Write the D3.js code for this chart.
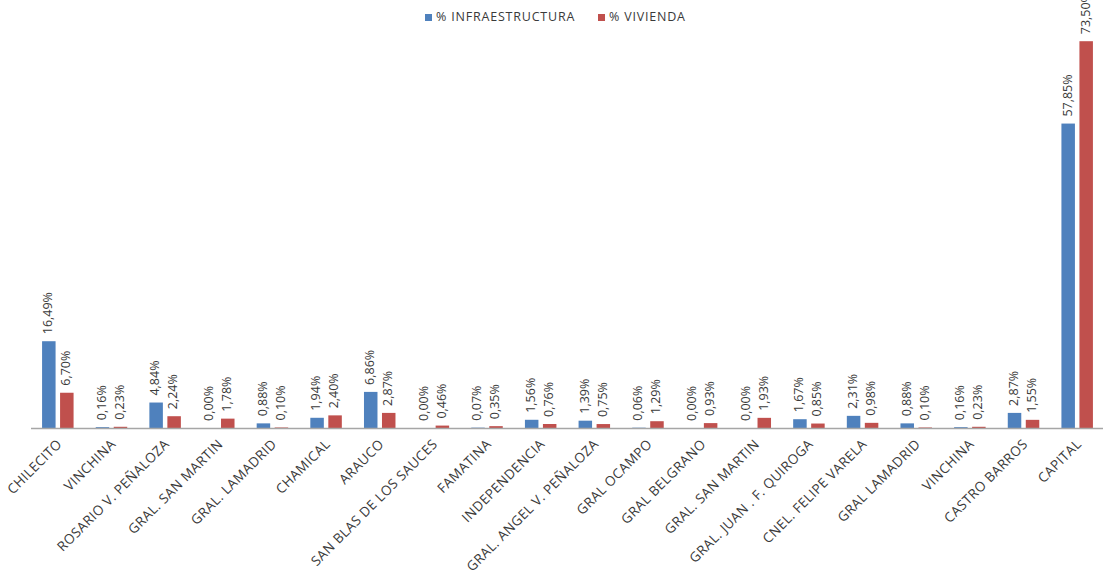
<!DOCTYPE html>
<html><head><meta charset="utf-8">
<script src="https://cdn.jsdelivr.net/npm/d3@7"></script>
<style>body{margin:0;background:#fff}svg{display:block}</style>
</head><body>
<svg id="c" width="1103" height="575"></svg>
<script>
const categories = ["CHILECITO","VINCHINA","ROSARIO V. PEÑALOZA","GRAL. SAN MARTIN","GRAL. LAMADRID","CHAMICAL","ARAUCO","SAN BLAS DE LOS SAUCES","FAMATINA","INDEPENDENCIA","GRAL. ANGEL V. PEÑALOZA","GRAL OCAMPO","GRAL BELGRANO","GRAL. SAN MARTIN ","GRAL. JUAN . F. QUIROGA","CNEL. FELIPE VARELA","GRAL LAMADRID","VINCHINA ","CASTRO BARROS","CAPITAL"];
const infraestructura = [16.49,0.16,4.84,0.00,0.88,1.94,6.86,0.00,0.07,1.56,1.39,0.06,0.00,0.00,1.67,2.31,0.88,0.16,2.87,57.85];
const vivienda = [6.70,0.23,2.24,1.78,0.10,2.40,2.87,0.46,0.35,0.76,0.75,1.29,0.93,1.93,0.85,0.98,0.10,0.23,1.55,73.50];
const seriesNames = ["% INFRAESTRUCTURA","% VIVIENDA"];
const colors = ["#4F81BD","#C0504D"];

const svg = d3.select("#c");
const font = "'Open Sans', sans-serif";
const x = d3.scaleBand().domain(categories).range([31,1104]).paddingInner(0).paddingOuter(0);
const y = d3.scaleLinear().domain([0,80]).range([428,7]);
const bw = 13.5, gap = 4.5;
const fmt = v => v.toFixed(2).replace(".",",") + "%";

const series = [infraestructura, vivienda];
series.forEach((vals,si)=>{
  const g = svg.append("g");
  const bx = (c) => x(c) + x.bandwidth()/2 + (si===0 ? -(gap/2+bw) : gap/2);
  g.selectAll("rect").data(categories).join("rect")
    .attr("x", c=>bx(c)).attr("width", bw)
    .attr("y", (c,i)=>y(vals[i])).attr("height",(c,i)=>y(0)-y(vals[i]))
    .attr("fill", colors[si]);
  g.selectAll("text").data(categories).join("text")
    .attr("transform",(c,i)=>`translate(${bx(c)+bw/2},${y(vals[i])-7}) rotate(-90)`)
    .attr("dominant-baseline","middle")
    .attr("font-family",font).attr("font-size",12.5).attr("fill","#3a3a3a")
    .text((c,i)=>fmt(vals[i]));
});

// axis
const xAxis = d3.axisBottom(x).tickSize(0).tickPadding(0);
const ax = svg.append("g").attr("transform","translate(0,428)").call(xAxis);
ax.select(".domain").attr("stroke","#a6a6a6").attr("stroke-width",1.5).attr("d","M31,0.5H1104");
ax.selectAll(".tick text")
  .attr("font-family",font).attr("font-size",13.5).attr("letter-spacing",0.4).attr("fill","#3a3a3a")
  .attr("text-anchor","end").attr("dy",null).attr("y",0)
  .attr("transform","translate(5,17) rotate(-45)")
  .text(d=>d.trim());

// legend
const leg = svg.append("g").attr("transform","translate(0,18)");
const lx = [425, 598];
seriesNames.forEach((n,i)=>{
  leg.append("rect").attr("x",lx[i]).attr("y",-4).attr("width",7).attr("height",7).attr("fill",colors[i]);
  leg.append("text").attr("x",lx[i]+11).attr("y",0).attr("dominant-baseline","middle")
    .attr("font-family",font).attr("font-size",12.5).attr("letter-spacing",0.8)
    .attr("fill","#3a3a3a").text(n);
});
</script>
</body></html>
